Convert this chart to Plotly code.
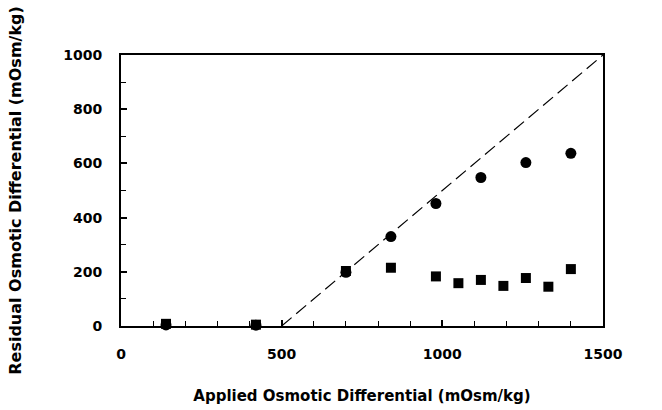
import plotly.graph_objects as go

circle_x = [140, 420, 700, 840, 980, 1120, 1260, 1400]
circle_y = [4, 3, 198, 330, 452, 548, 603, 637]
square_x = [140, 420, 700, 840, 980, 1050, 1120, 1190, 1260, 1330, 1400]
square_y = [8, 5, 203, 215, 183, 158, 170, 148, 177, 145, 210]
line_x = [500, 1500]
line_y = [0, 1000]

x_ticks = [0, 500, 1000, 1500]
y_ticks = [0, 200, 400, 600, 800, 1000]

font = "DejaVu Sans, Arial, sans-serif"

fig = go.Figure()
fig.add_trace(go.Scatter(x=line_x, y=line_y, mode="lines",
                         line=dict(color="black", width=1.2, dash="13px,6px"),
                         showlegend=False, hoverinfo="skip"))
fig.add_trace(go.Scatter(x=circle_x, y=circle_y, mode="markers",
                         marker=dict(symbol="circle", size=11, color="black"),
                         showlegend=False, cliponaxis=False))
fig.add_trace(go.Scatter(x=square_x, y=square_y, mode="markers",
                         marker=dict(symbol="square", size=10, color="black"),
                         showlegend=False, cliponaxis=False))

fig.update_layout(
    width=662, height=410,
    margin=dict(l=121, r=59, t=55, b=84),
    plot_bgcolor="white", paper_bgcolor="white",
    font=dict(family=font, color="black"),
    xaxis=dict(range=[0, 1500], tickvals=x_ticks, ticktext=[str(v) for v in x_ticks],
               ticks="inside", ticklen=6, tickwidth=1.5, tickcolor="black",
               minor=dict(dtick=100, ticks="inside", ticklen=5, tickwidth=1.2, tickcolor="black"),
               showgrid=False, zeroline=False, showline=True, linecolor="black", linewidth=1.8,
               mirror=True, ticklabelstandoff=14, automargin=False,
               tickfont=dict(size=14, family=font, weight="bold"),
               title=dict(text="Applied Osmotic Differential (mOsm/kg)",
                          font=dict(size=15, family=font, weight="bold"), standoff=30)),
    yaxis=dict(range=[0, 1000], tickvals=y_ticks, ticktext=[str(v) for v in y_ticks],
               ticks="inside", ticklen=6, tickwidth=1.5, tickcolor="black",
               minor=dict(dtick=100, ticks="inside", ticklen=5, tickwidth=1.2, tickcolor="black"),
               showgrid=False, zeroline=False, showline=True, linecolor="black", linewidth=1.8,
               mirror=True, ticklabelstandoff=14, automargin=False,
               tickfont=dict(size=14, family=font, weight="bold"),
               title=dict(text="Residual Osmotic Differential (mOsm/kg)",
                          font=dict(size=16, family=font, weight="bold"), standoff=38)),
)

fig.write_html("out.html")
